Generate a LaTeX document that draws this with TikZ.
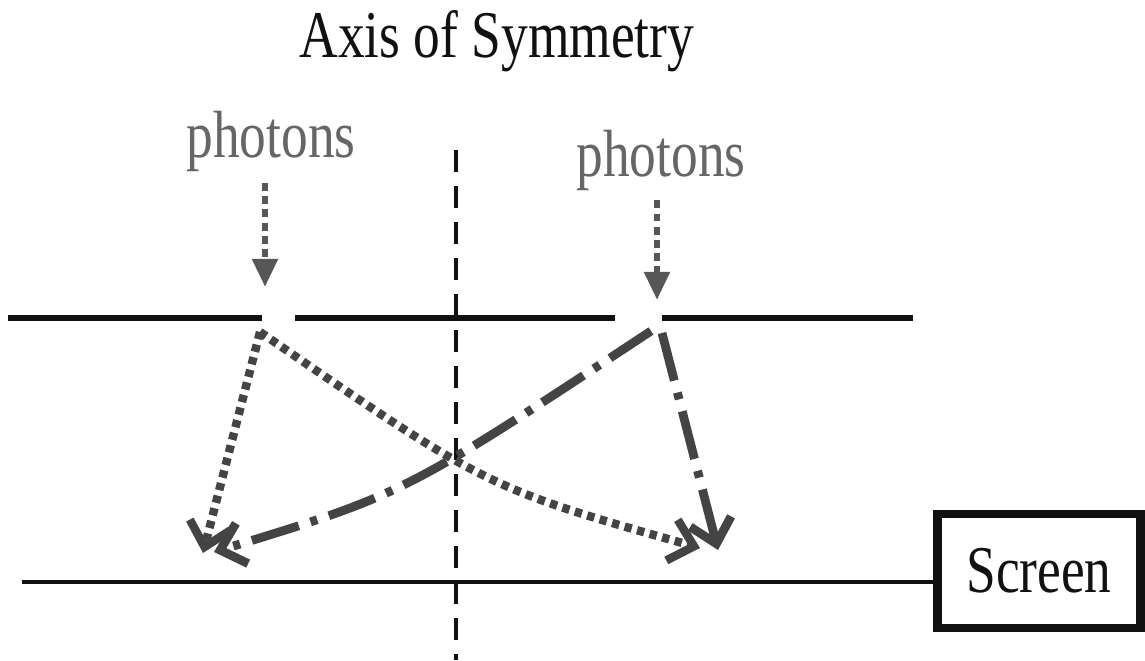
\documentclass[tikz,border=0pt]{standalone}
\usepackage{fontspec}
\setmainfont{Liberation Serif}[FakeStretch=0.8]
\usetikzlibrary{arrows.meta}
\definecolor{ink}{HTML}{111111}
\definecolor{photon}{HTML}{666666}
\definecolor{ray}{HTML}{444444}
\tikzset{
  >=Latex,
  every node/.style={font=\fontsize{38}{46}\selectfont,text=ink},
  lbl/.style={inner sep=0pt,anchor=base},
  photonlbl/.style={lbl,text=photon},
  barrier/.style={line width=3.6pt,draw=ink},
  screenline/.style={line width=2.2pt,draw=ink},
  axisline/.style={line width=2.2pt,draw=ink,dash pattern=on 12.5pt off 8pt},
  screenbox/.style={draw=ink,line width=5pt,minimum width=4.06cm,minimum height=2.28cm,inner sep=0pt},
  photonarr/.style={-{Triangle[length=16pt,width=14pt]},line width=3.6pt,draw=ray!90,dash pattern=on 4.5pt off 3pt},
  dotray/.style={-{Straight Barb[length=13pt,width=24pt]},line width=4.8pt,draw=ray,dash pattern=on 4.2pt off 3.2pt},
  dashdotray/.style={-{Straight Barb[length=13pt,width=24pt]},line width=5pt,draw=ray,dash pattern=on 28pt off 7pt on 4pt off 7pt},
}

\begin{document}
\begin{tikzpicture}[x=0.02cm,y=-0.02cm]
\useasboundingbox (0,0) rectangle (1145,661);

% labels
\node[lbl] (title) at (497,58) {Axis of Symmetry};
\node[photonlbl] (photL) at (271,158) {photons};
\node[photonlbl] (photR) at (661,177) {photons};

% slits and hit points
\coordinate (inL) at (265,287);
\coordinate (inR) at (657,300);
\coordinate (slitL) at (260,332);
\coordinate (slitR) at (651,331);
\coordinate (slitRb) at (662,333);
\coordinate (hitLL) at (203,553);
\coordinate (hitLR) at (700,548);
\coordinate (hitRL) at (214,552);
\coordinate (hitRR) at (718,550);
\coordinate (bendL) at (487,488);
\coordinate (bendR) at (404,494);

% barrier with two slits
\draw[barrier] (8,318) -- (262,318);
\draw[barrier] (295,318) -- (615,318);
\draw[barrier] (662,318) -- (913,318);

% axis
\draw[axisline] (456,150) -- (456,660);

% screen
\node[screenbox] (screen) at (1039,571) {Screen};
\coordinate (scrL) at (22,582);
\draw[screenline] (scrL) -- (scrL -| screen.west);

% incoming photons
\draw[photonarr,shorten <=6pt] (photL.south -| inL) -- (inL);
\draw[photonarr,shorten <=5pt] (photR.south -| inR) -- (inR);

% paths through the slits
\draw[dotray] (slitL) -- (hitLL);
\draw[dotray] (slitL) .. controls (bendL) .. (hitLR);
\draw[dashdotray] (slitR) .. controls (bendR) .. (hitRL);
\draw[dashdotray] (slitRb) -- (hitRR);

\end{tikzpicture}
\end{document}
